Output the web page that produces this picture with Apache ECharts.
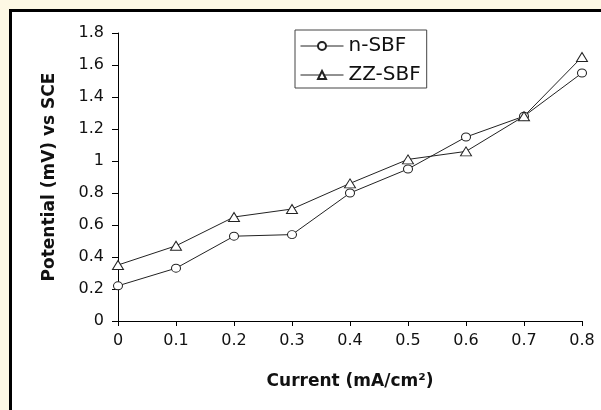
<!DOCTYPE html>
<html>
<head>
<meta charset="utf-8">
<script src="https://cdn.jsdelivr.net/npm/echarts@6/dist/echarts.min.js"></script>
<style>
  html, body { margin: 0; padding: 0; background: #fdf8e4; }
  #chart { width: 601px; height: 410px; }
</style>
</head>
<body>
<div id="chart"></div>
<script>
// values
const currents = [0, 0.1, 0.2, 0.3, 0.4, 0.5, 0.6, 0.7, 0.8]
const nSBF = [0.22, 0.33, 0.53, 0.54, 0.80, 0.95, 1.15, 1.28, 1.55]
const zzSBF = [0.35, 0.47, 0.65, 0.70, 0.86, 1.01, 1.06, 1.28, 1.65]

const FONT = 'DejaVu Sans'
const INK = '#111'

const chart = echarts.init(document.getElementById('chart'))

const pairs = ys => currents.map((x, i) => [x, ys[i]])

chart.setOption({
  backgroundColor: '#fdf8e4',
  animation: false,
  graphic: [{
    type: 'rect', z: -100, silent: true,
    shape: { x: 10.5, y: 10.5, width: 700, height: 500 },
    style: { fill: '#fff', stroke: '#000', lineWidth: 3 }
  }],
  grid: { left: 118, right: 19, top: 33, bottom: 89 },
  legend: {
    orient: 'vertical', left: 295, top: 30,
    padding: [6, 6, 3, 5], itemGap: 9,
    itemWidth: 43, itemHeight: 10,
    borderColor: '#444', borderWidth: 1,
    lineStyle: { width: 1 },
    textStyle: { fontFamily: FONT, fontSize: 20, color: INK, lineHeight: 20 },
    data: ['n-SBF', 'ZZ-SBF']
  },
  xAxis: {
    type: 'value', min: 0, max: 0.8, interval: 0.1,
    name: 'Current (mA/cm²)', nameLocation: 'middle', nameGap: 52,
    nameTextStyle: { fontFamily: FONT, fontSize: 17, fontWeight: 'bold', color: INK },
    axisLine: { show: true, lineStyle: { color: '#000', width: 1 } },
    axisTick: { show: true, length: 5, lineStyle: { color: '#000' } },
    axisLabel: { fontFamily: FONT, fontSize: 16, color: INK, margin: 12 },
    splitLine: { show: false }
  },
  yAxis: {
    type: 'value', min: 0, max: 1.8, interval: 0.2,
    name: 'Potential (mV) vs SCE', nameLocation: 'middle', nameGap: 60,
    nameTextStyle: { fontFamily: FONT, fontSize: 17, fontWeight: 'bold', color: INK },
    axisLine: { show: true, lineStyle: { color: '#000', width: 1 } },
    axisTick: { show: true, length: 6, lineStyle: { color: '#000' } },
    axisLabel: { fontFamily: FONT, fontSize: 16, color: INK, margin: 14 },
    splitLine: { show: false }
  },
  series: [
    {
      name: 'n-SBF', type: 'line', data: pairs(nSBF),
      symbol: 'circle', symbolSize: [9, 8], showAllSymbol: true,
      lineStyle: { color: '#222', width: 1 },
      itemStyle: { color: '#fff', borderColor: '#222', borderWidth: 1 }
    },
    {
      name: 'ZZ-SBF', type: 'line', data: pairs(zzSBF),
      symbol: 'triangle', symbolSize: [11, 9], showAllSymbol: true,
      lineStyle: { color: '#222', width: 1 },
      itemStyle: { color: '#fff', borderColor: '#222', borderWidth: 1 }
    }
  ]
})
</script>
</body>
</html>
